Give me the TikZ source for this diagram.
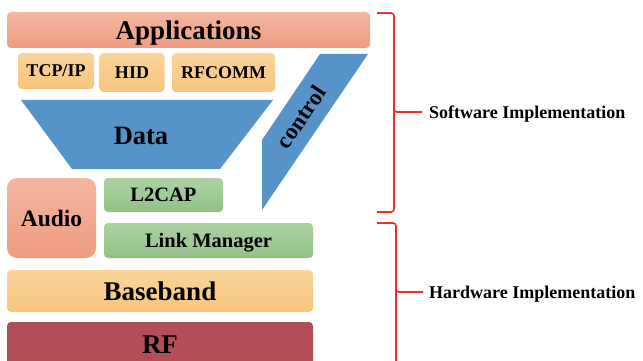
\documentclass[tikz,border=0pt]{standalone}
\usepackage{fontspec}
\setmainfont{Liberation Serif}
\begin{document}
\begin{tikzpicture}[x=1pt,y=-1pt,
  box/.style={rounded corners=4pt, inner sep=0pt, text depth=0pt, font=\bfseries},
  salmon/.style={box, top color=salmonT, bottom color=salmonB},
  orangebox/.style={box, top color=orangeT, bottom color=orangeB},
  greenbox/.style={box, top color=greenT, bottom color=greenB},
  redbox/.style={box, fill=rfred},
  blueshape/.style={fill=dblue},
  brace/.style={draw=braceRed, line width=1.6pt, rounded corners=3pt},
  lbl/.style={font=\bfseries\fontsize{18}{20}\selectfont, anchor=west, inner sep=0pt, text depth=0pt}]
\definecolor{salmonT}{HTML}{F4B6A1}
\definecolor{salmonB}{HTML}{EE9C80}
\definecolor{orangeT}{HTML}{FAD59C}
\definecolor{orangeB}{HTML}{F6C57C}
\definecolor{greenT}{HTML}{ABD3A2}
\definecolor{greenB}{HTML}{92C187}
\definecolor{rfred}{HTML}{B24F56}
\definecolor{dblue}{HTML}{5593C9}
\definecolor{braceRed}{HTML}{EE2D2D}
\useasboundingbox (0,0) rectangle (643,361);
% Applications
\node[salmon, minimum width=363pt, minimum height=36pt, font=\bfseries\fontsize{27}{30}\selectfont] (app) at (188.5,30) {Applications};
% protocol boxes
\node[orangebox, minimum width=76pt, minimum height=36pt, font=\bfseries\fontsize{18}{20}\selectfont] (tcp) at (56,71) {TCP/IP};
\node[orangebox, minimum width=65pt, minimum height=39pt, font=\bfseries\fontsize{18}{20}\selectfont] (hid) at (132,72.5) {HID};
\node[orangebox, minimum width=103pt, minimum height=39pt, font=\bfseries\fontsize{18}{20}\selectfont] (rfc) at (223.5,72.5) {RFCOMM};
% Data trapezoid
\fill[blueshape] (21,100) -- (273,100) -- (220,169) -- (72,169) -- cycle;
\node[inner sep=0pt, text depth=0pt, font=\bfseries\fontsize{26.5}{30}\selectfont] (data) at (141,135.5) {Data};
% control parallelogram
\fill[blueshape] (320,54) -- (368,54) -- (262,210) -- (262,140) -- cycle;
\node[inner sep=0pt, rotate=56, font=\bfseries\fontsize{23}{26}\selectfont] (ctrl) at (301,117) {control};
% Audio
\node[salmon, rounded corners=10pt, minimum width=89pt, minimum height=80pt, font=\bfseries\fontsize{23.5}{26}\selectfont] (audio) at (51.5,218) {Audio};
% L2CAP and Link Manager
\node[greenbox, minimum width=119pt, minimum height=34pt, font=\bfseries\fontsize{20.5}{24}\selectfont] (l2cap) at (163.5,195) {L2CAP};
\node[greenbox, minimum width=209pt, minimum height=35pt, font=\bfseries\fontsize{20.5}{24}\selectfont] (lm) at (208.5,240.5) {Link Manager};
% Baseband and RF
\node[orangebox, minimum width=306pt, minimum height=42pt, font=\bfseries\fontsize{27}{30}\selectfont] (bb) at (160,291) {Baseband};
\node[redbox, minimum width=306pt, minimum height=46pt, font=\bfseries\fontsize{27}{30}\selectfont] (rf) at (160,345) {RF};
% braces
\coordinate (swtip) at (422,112);
\coordinate (hwtip) at (423,292);
\draw[brace] (377,13) -- (394,13) -- (394,112) -- (swtip);
\draw[brace] (394,108) -- (394,212) -- (377,212);
\draw[brace] (377,223) -- (396,223) -- (396,292) -- (hwtip);
\draw[brace] (396,288) -- (396,365);
\node[lbl] (sw) at (429,112) {Software Implementation};
\node[lbl] (hw) at (429,292) {Hardware Implementation};
\end{tikzpicture}
\end{document}
